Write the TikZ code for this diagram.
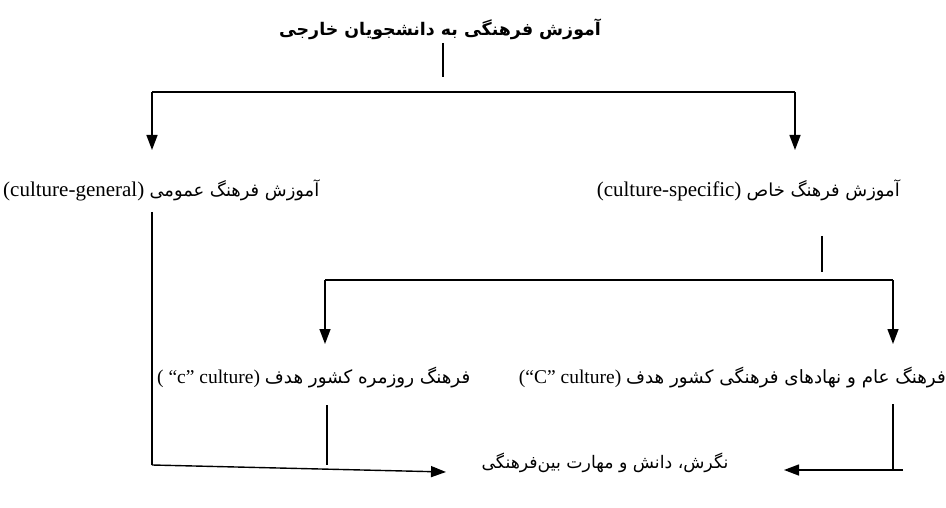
\documentclass[tikz,border=0pt]{standalone}
\usepackage{fontspec}
\setmainfont{Liberation Serif}
\newfontfamily\fa[Script=Arabic]{DejaVu Sans}
\TeXXeTstate=1
\usetikzlibrary{arrows.meta}
\newcommand{\faT}[1]{{\fa\fontsize{17.3}{20}\selectfont\beginR #1\endR}}
\newcommand{\faR}[1]{{\fa\fontsize{18.3}{20}\selectfont\beginR #1\endR}}
\newcommand{\faU}[1]{{\fa\fontsize{17.9}{20}\selectfont\beginR #1\endR}}
\tikzset{
  txt/.style={inner sep=0pt, font=\fontsize{19.5}{22}\selectfont},
  txtbig/.style={inner sep=0pt, font=\fontsize{21}{23}\selectfont},
  ln/.style={line width=1.4pt},
  arr/.style={ln, -{Triangle[length=15pt,width=11pt]}},
}
\begin{document}
\begin{tikzpicture}[x=1pt,y=-1pt]
\useasboundingbox (0,0) rectangle (946,508);
% texts
\node[txt, font=\fontsize{17.4}{20}\selectfont\fa\bfseries] (title) at (440,29) {\beginR آموزش فرهنگی به دانشجویان خارجی\endR};
\node[txtbig, anchor=west] (gen) at (3,190) {(culture-general) \faU{آموزش فرهنگ عمومی}};
\node[txtbig, anchor=east] (spec) at (900,190) {(culture-specific) \faU{آموزش فرهنگ خاص}};
\node[txt, anchor=west] (small) at (157,378) {( “c” culture) \faR{فرهنگ روزمره کشور هدف}};
\node[txt, anchor=east] (big) at (946,378) {(“C” culture) \faR{فرهنگ عام و نهادهای فرهنگی کشور هدف}};
\node[txt] (res) at (605,463) {\faT{نگرش، دانش و مهارت بین‌فرهنگی}};
% junction coordinates
\coordinate (t0) at (443,43);
\coordinate (t1) at (443,77);
\coordinate (hL) at (152,92);
\coordinate (hR) at (795,92);
\coordinate (aL) at (152,150);
\coordinate (aR) at (795,150);
\coordinate (s0) at (822,236);
\coordinate (s1) at (822,272);
\coordinate (h2L) at (325,280);
\coordinate (h2R) at (893,280);
\coordinate (a2L) at (325,344);
\coordinate (a2R) at (893,344);
\coordinate (g0) at (152,212);
\coordinate (g1) at (152,465);
\coordinate (gE) at (446,472);
\coordinate (c0) at (327,405);
\coordinate (c1) at (327,465);
\coordinate (C0) at (893,404);
\coordinate (C1) at (893,470);
\coordinate (Ce) at (903,470);
\coordinate (Ct) at (784,470);
% connectors
\draw[ln] (t0) -- (t1);
\draw[ln] (hL) -- (hR);
\draw[arr] (hL) -- (aL);
\draw[arr] (hR) -- (aR);
\draw[ln] (s0) -- (s1);
\draw[ln] (h2L) -- (h2R);
\draw[arr] (h2L) -- (a2L);
\draw[arr] (h2R) -- (a2R);
\draw[ln] (g0) -- (g1);
\draw[arr] (g1) -- (gE);
\draw[ln] (c0) -- (c1);
\draw[ln] (C0) -- (C1);
\draw[arr] (Ce) -- (Ct);
\end{tikzpicture}
\end{document}
